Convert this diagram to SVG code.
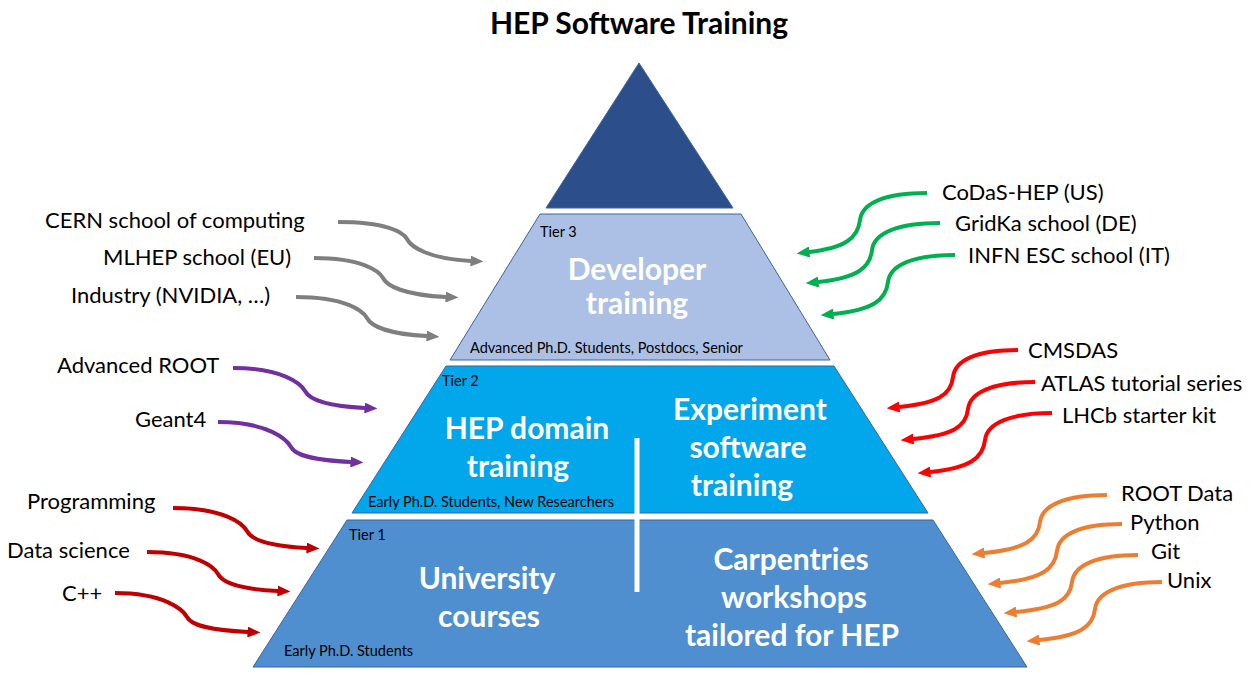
<svg xmlns="http://www.w3.org/2000/svg" width="1257" height="685" viewBox="0 0 1257 685">
<style>
.lbl{font-family:Lato,"Open Sans","Liberation Sans",sans-serif;font-size:22px;fill:#000}
.title{font-family:Lato,"Open Sans","Liberation Sans",sans-serif;font-size:30px;font-weight:bold;fill:#000}
.tier{font-family:Lato,"Open Sans","Liberation Sans",sans-serif;font-size:14.5px;fill:#000}
.big{font-family:Lato,"Open Sans","Liberation Sans",sans-serif;font-size:30px;font-weight:bold;fill:#fff;text-anchor:middle}
.shape{stroke:#3A64A0;stroke-width:1}
.arr{fill:none;stroke-width:4}
</style>
<defs>
<marker id="mGray" markerUnits="userSpaceOnUse" markerWidth="13" markerHeight="11" refX="0.5" refY="5.5" orient="auto"><path d="M0,0 L13,5.5 L0,11 z" fill="#7F7F7F"/></marker>
<marker id="mPurple" markerUnits="userSpaceOnUse" markerWidth="13" markerHeight="11" refX="0.5" refY="5.5" orient="auto"><path d="M0,0 L13,5.5 L0,11 z" fill="#7030A0"/></marker>
<marker id="mDred" markerUnits="userSpaceOnUse" markerWidth="13" markerHeight="11" refX="0.5" refY="5.5" orient="auto"><path d="M0,0 L13,5.5 L0,11 z" fill="#C00000"/></marker>
<marker id="mGreen" markerUnits="userSpaceOnUse" markerWidth="13" markerHeight="11" refX="0.5" refY="5.5" orient="auto"><path d="M0,0 L13,5.5 L0,11 z" fill="#00B050"/></marker>
<marker id="mRed" markerUnits="userSpaceOnUse" markerWidth="13" markerHeight="11" refX="0.5" refY="5.5" orient="auto"><path d="M0,0 L13,5.5 L0,11 z" fill="#FF0000"/></marker>
<marker id="mOrange" markerUnits="userSpaceOnUse" markerWidth="13" markerHeight="11" refX="0.5" refY="5.5" orient="auto"><path d="M0,0 L13,5.5 L0,11 z" fill="#ED7D31"/></marker>
</defs>
<rect width="1257" height="685" fill="#fff"/>
<text class="title" x="639" y="34" text-anchor="middle">HEP Software Training</text>

<g id="apex">
<polygon class="shape" points="639,63 546,208 733,208" fill="#2C4E8B"/>
</g>
<g id="tier3">
<polygon class="shape" points="540,214 741,214 830,360 450,360" fill="#ABC0E4"/>
<text class="tier" x="540" y="237">Tier 3</text>
<text class="big" x="637" y="280">Developer</text>
<text class="big" x="637" y="314">training</text>
<text class="tier" x="470" y="353">Advanced Ph.D. Students, Postdocs, Senior</text>
</g>
<g id="tier2">
<polygon class="shape" points="446,366 834,366 928,513 352,513" fill="#02A6EA"/>
<text class="tier" x="442" y="386">Tier 2</text>
<text class="big" x="527" y="439">HEP domain</text>
<text class="big" x="518" y="477">training</text>
<text class="big" x="750" y="420">Experiment</text>
<text class="big" x="748" y="458">software</text>
<text class="big" x="742" y="496">training</text>
<text class="tier" x="368" y="507">Early Ph.D. Students, New Researchers</text>
</g>
<g id="tier1">
<polygon class="shape" points="347,520 933,520 1027,667 253,667" fill="#4F8FCF"/>
<text class="tier" x="349" y="540">Tier 1</text>
<text class="big" x="487" y="589">University</text>
<text class="big" x="489" y="627">courses</text>
<text class="big" x="791" y="570">Carpentries</text>
<text class="big" x="794" y="608">workshops</text>
<text class="big" x="792" y="646">tailored for HEP</text>
<text class="tier" x="284" y="656">Early Ph.D. Students</text>
</g>
<g id="divider">
<line x1="637" y1="438" x2="637" y2="592" stroke="#fff" stroke-width="5"/>
</g>

<g id="labels">
<text class="lbl" x="45" y="228">CERN school of computing</text>
<text class="lbl" x="103" y="265">MLHEP school (EU)</text>
<text class="lbl" x="71" y="303">Industry (NVIDIA, …)</text>
<text class="lbl" x="57" y="373">Advanced ROOT</text>
<text class="lbl" x="135" y="427">Geant4</text>
<text class="lbl" x="27" y="509">Programming</text>
<text class="lbl" x="7" y="558">Data science</text>
<text class="lbl" x="62" y="601">C++</text>
<text class="lbl" x="942" y="200">CoDaS-HEP (US)</text>
<text class="lbl" x="955" y="231">GridKa school (DE)</text>
<text class="lbl" x="968" y="263">INFN ESC school (IT)</text>
<text class="lbl" x="1028" y="358">CMSDAS</text>
<text class="lbl" x="1041" y="391">ATLAS tutorial series</text>
<text class="lbl" x="1062" y="423">LHCb starter kit</text>
<text class="lbl" x="1121" y="501">ROOT Data</text>
<text class="lbl" x="1130" y="530">Python</text>
<text class="lbl" x="1151" y="559">Git</text>
<text class="lbl" x="1167" y="588">Unix</text>
</g>

<g id="connectors">
<path class="arr" stroke="#7F7F7F" marker-end="url(#mGray)" d="M338,222 C386,222 403,232 407,239 C411,247 429,259 471,261"/>
<path class="arr" stroke="#7F7F7F" marker-end="url(#mGray)" d="M314,258 C362,258 379,271 383,278 C387,286 404,295 446,297"/>
<path class="arr" stroke="#7F7F7F" marker-end="url(#mGray)" d="M296,297 C346,297 363,311 367,318 C371,326 388,334 427,336"/>
<path class="arr" stroke="#7030A0" marker-end="url(#mPurple)" d="M233,368 C283,368 301,384 305,391 C309,399 325,406 365,408"/>
<path class="arr" stroke="#7030A0" marker-end="url(#mPurple)" d="M218,422 C269,422 287,440 291,447 C295,455 311,460 351,462"/>
<path class="arr" stroke="#C00000" marker-end="url(#mDred)" d="M173,508 C225,508 243,524 247,531 C251,539 267,546 307,548"/>
<path class="arr" stroke="#C00000" marker-end="url(#mDred)" d="M147,552 C197,552 214,567 218,574 C222,582 238,589 278,591"/>
<path class="arr" stroke="#C00000" marker-end="url(#mDred)" d="M115,593 C165,593 183,610 187,617 C191,625 208,630 248,632"/>
<path class="arr" stroke="#00B050" marker-end="url(#mGreen)" d="M927,193 C885,193 862,203 860,220 C858,238 845,248 809,252"/>
<path class="arr" stroke="#00B050" marker-end="url(#mGreen)" d="M940,223 C898,223 874,233 872,250 C870,268 857,278 818,282"/>
<path class="arr" stroke="#00B050" marker-end="url(#mGreen)" d="M955,255 C913,255 890,265 888,282 C886,300 873,310 833,314"/>
<path class="arr" stroke="#FF0000" marker-end="url(#mRed)" d="M1018,350 C977,350 955,360 953,377 C951,395 938,403 899,407"/>
<path class="arr" stroke="#FF0000" marker-end="url(#mRed)" d="M1035,382 C994,382 970,392 968,409 C966,427 953,435 913,439"/>
<path class="arr" stroke="#FF0000" marker-end="url(#mRed)" d="M1052,413 C1011,413 987,423 985,440 C983,458 970,468 930,472"/>
<path class="arr" stroke="#ED7D31" marker-end="url(#mOrange)" d="M1107,495 C1066,495 1042,505 1040,522 C1038,540 1025,549 984,553"/>
<path class="arr" stroke="#ED7D31" marker-end="url(#mOrange)" d="M1122,524 C1081,524 1059,534 1057,551 C1055,569 1042,579 1000,583"/>
<path class="arr" stroke="#ED7D31" marker-end="url(#mOrange)" d="M1138,555 C1097,555 1074,565 1072,582 C1070,600 1057,608 1016,612"/>
<path class="arr" stroke="#ED7D31" marker-end="url(#mOrange)" d="M1162,582 C1121,582 1097,592 1095,609 C1093,627 1080,636 1039,640"/>
</g>
</svg>
